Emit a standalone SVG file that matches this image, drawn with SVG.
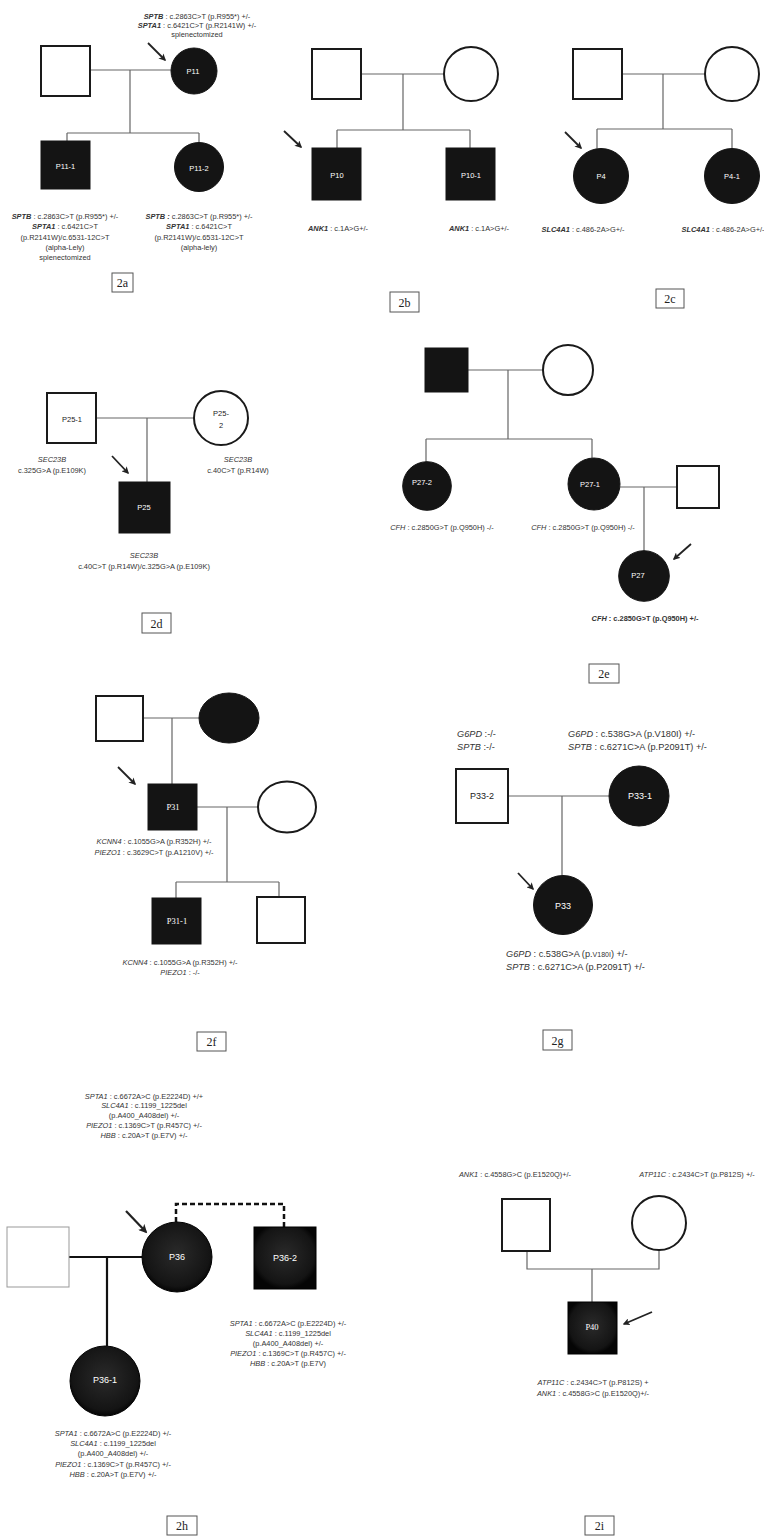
<svg xmlns="http://www.w3.org/2000/svg" width="764" height="1536" viewBox="0 0 764 1536">
<defs>
<style>
.t{font-family:"Liberation Sans",Arial,sans-serif;font-size:7.4px;fill:#333;text-anchor:middle}
.tl{font-family:"Liberation Sans",Arial,sans-serif;font-size:9.2px;fill:#333}
.bi{font-weight:bold;font-style:italic}
.i{font-style:italic}
.b{font-weight:bold}
.lab{font-family:"Liberation Sans",Arial,sans-serif;font-size:7.5px;fill:#fff;text-anchor:middle;dominant-baseline:central}
.labk{font-family:"Liberation Sans",Arial,sans-serif;font-size:7.5px;fill:#222;text-anchor:middle;dominant-baseline:central}
.labs{font-family:"Liberation Serif","Times New Roman",serif;font-size:8.5px;fill:#fff;text-anchor:middle;dominant-baseline:central}
.lab9{font-family:"Liberation Sans",Arial,sans-serif;font-size:9px;fill:#fff;text-anchor:middle;dominant-baseline:central}
.lab9k{font-family:"Liberation Sans",Arial,sans-serif;font-size:9px;fill:#222;text-anchor:middle;dominant-baseline:central}
.open{fill:#fff;stroke:#1a1a1a;stroke-width:2}
.fill{fill:#141414;stroke:#141414;stroke-width:1}
.ln{fill:none;stroke:#666;stroke-width:1.2}
.lnk{fill:none;stroke:#111;stroke-width:2.2}
.arr{fill:none;stroke:#222;stroke-width:1.8;marker-end:url(#ah)}
.box{fill:#fff;stroke:#555;stroke-width:1}
.bt{font-family:"Liberation Serif","Times New Roman",serif;font-size:12px;fill:#222;text-anchor:middle;dominant-baseline:central}
</style>
<marker id="ah" viewBox="0 0 10 10" refX="8" refY="5" markerWidth="4" markerHeight="4" orient="auto">
<path d="M0,0 L10,5 L0,10 L2.5,5 z" fill="#222"/>
</marker>
<radialGradient id="dk" cx="50%" cy="45%" r="55%">
<stop offset="0%" stop-color="#2a2a2a"/>
<stop offset="85%" stop-color="#141414"/>
<stop offset="100%" stop-color="#050505"/>
</radialGradient>
</defs>
<rect width="764" height="1536" fill="#fff"/>

<g id="connectors">
<!-- 2a -->
<path class="ln" d="M90,70 H171 M130,70 V133 M67,133 H199 M67,133 V141 M199,133 V142"/>
<!-- 2b -->
<path class="ln" d="M361,74 H444 M403,74 V130 M337,130 H470 M337,130 V148 M470,130 V148"/>
<!-- 2c -->
<path class="ln" d="M622,74 H705 M663,74 V129 M597,129 H732 M597,129 V148.5 M732,129 V148.5"/>
<!-- 2d -->
<path class="ln" d="M96,418 H194 M147,418 V482"/>
<!-- 2e -->
<path class="ln" d="M468,370 H543 M508,370 V439 M426,439 H592 M426,439 V462 M592,439 V458 M620,487 H677 M644,487 V551"/>
<line x1="410" y1="498" x2="443" y2="498" stroke="#777" stroke-width="0.6"/>
<!-- 2f -->
<path class="ln" d="M143,718 H199 M172,718 V784 M197,807 H258 M227,807 V882 M176,882 H279 M176,882 V898 M279,882 V897"/>
<!-- 2g -->
<path class="ln" d="M508,796 H609 M562,796 V875.5"/>
<!-- 2h -->
<path class="lnk" d="M69,1257 H142 M107,1257 V1346"/>
<path fill="none" stroke="#111" stroke-width="2.5" stroke-dasharray="5,3" d="M176,1222 V1204 H284 V1227"/>
<!-- 2i -->
<path class="ln" d="M527,1251 V1269 H659 V1250 M592,1269 V1302"/>
<!-- proband arrows -->
<line class="arr" x1="148" y1="43" x2="165" y2="60"/>
<line class="arr" x1="284" y1="131" x2="301" y2="147"/>
<line class="arr" x1="565" y1="132" x2="581" y2="148"/>
<line class="arr" x1="112" y1="456" x2="128" y2="473"/>
<line class="arr" x1="691" y1="544" x2="674" y2="559"/>
<line class="arr" x1="118" y1="767" x2="135" y2="784"/>
<line class="arr" x1="518" y1="873" x2="533" y2="889"/>
<line class="arr" x1="126" y1="1211" x2="146" y2="1232" style="stroke-width:2.2"/>
<line class="arr" x1="652" y1="1312" x2="624" y2="1324"/>
</g>

<!-- ===== 2a ===== -->
<g id="a-father"><rect class="open" x="41" y="46" width="49" height="50"/></g>
<g id="a-P11"><circle class="fill" cx="194" cy="71" r="23"/><text class="lab" x="193" y="71">P11</text>
<text class="t" x="197" y="18.5"><tspan class="bi">SPTB</tspan> : c.2863C&gt;T (p.R955*) +/-</text>
<text class="t" x="197" y="27.5"><tspan class="bi">SPTA1</tspan> : c.6421C&gt;T (p.R2141W) +/-</text>
<text class="t" x="197" y="36.5">splenectomized</text></g>
<g id="a-P11-1"><rect class="fill" x="41" y="141" width="49" height="48"/><text class="lab" x="65.5" y="166">P11-1</text>
<text class="t" x="65" y="218.5"><tspan class="bi">SPTB</tspan> : c.2863C&gt;T (p.R955*) +/-</text>
<text class="t" x="65" y="228.5"><tspan class="bi">SPTA1</tspan> : c.6421C&gt;T</text>
<text class="t" x="65" y="239.5">(p.R2141W)/c.6531-12C&gt;T</text>
<text class="t" x="65" y="249.5">(alpha-Lely)</text>
<text class="t" x="65" y="259.5">splenectomized</text></g>
<g id="a-P11-2"><circle class="fill" cx="199" cy="167" r="24.5"/><text class="lab" x="199" y="168">P11-2</text>
<text class="t" x="199" y="218.5"><tspan class="bi">SPTB :</tspan> c.2863C&gt;T (p.R955*) +/-</text>
<text class="t" x="199" y="228.5"><tspan class="bi">SPTA1</tspan> : c.6421C&gt;T</text>
<text class="t" x="199" y="239.5">(p.R2141W)/c.6531-12C&gt;T</text>
<text class="t" x="199" y="249.5">(alpha-lely)</text></g>
<g id="label-2a"><rect class="box" x="112" y="273" width="21" height="19"/><text class="bt" x="122.5" y="283">2a</text></g>

<!-- ===== 2b ===== -->
<g id="b-father"><rect class="open" x="312" y="49" width="49" height="50"/></g>
<g id="b-mother"><circle class="open" cx="471" cy="74" r="27"/></g>
<g id="b-P10"><rect class="fill" x="312" y="148" width="49" height="52"/><text class="lab" x="337" y="175">P10</text>
<text class="t" x="338" y="230.5"><tspan class="bi">ANK1</tspan> : c.1A&gt;G+/-</text></g>
<g id="b-P10-1"><rect class="fill" x="446" y="148" width="49" height="52"/><text class="lab" x="471" y="175">P10-1</text>
<text class="t" x="479" y="230.5"><tspan class="bi">ANK1</tspan> : c.1A&gt;G+/-</text></g>
<g id="label-2b"><rect class="box" x="390" y="292" width="29" height="20"/><text class="bt" x="404.5" y="302.5">2b</text></g>

<!-- ===== 2c ===== -->
<g id="c-father"><rect class="open" x="573" y="49" width="49" height="50"/></g>
<g id="c-mother"><circle class="open" cx="732" cy="74" r="27"/></g>
<g id="c-P4"><circle class="fill" cx="601" cy="176" r="27.5"/><text class="lab" x="601" y="176">P4</text>
<text class="t" x="583" y="231.5"><tspan class="bi">SLC4A1</tspan> : c.486-2A&gt;G+/-</text></g>
<g id="c-P4-1"><circle class="fill" cx="732" cy="176" r="27.5"/><text class="lab" x="732" y="176">P4-1</text>
<text class="t" x="723" y="231.5"><tspan class="bi">SLC4A1</tspan> : c.486-2A&gt;G+/-</text></g>
<g id="label-2c"><rect class="box" x="656" y="289" width="28" height="19"/><text class="bt" x="670" y="299">2c</text></g>

<!-- ===== 2d ===== -->
<g id="d-P25-1"><rect class="open" x="47" y="393" width="49" height="50"/><text class="labk" x="72" y="419">P25-1</text>
<text class="t" x="52" y="461.5"><tspan class="i">SEC23B</tspan></text>
<text class="t" x="52" y="472.5">c.325G&gt;A (p.E109K)</text></g>
<g id="d-P25-2"><circle class="open" cx="221" cy="418" r="27"/><text class="labk" x="221" y="413">P25-</text><text class="labk" x="221" y="425">2</text>
<text class="t" x="238" y="461.5"><tspan class="i">SEC23B</tspan></text>
<text class="t" x="238" y="472.5">c.40C&gt;T (p.R14W)</text></g>
<g id="d-P25"><rect class="fill" x="119" y="482" width="51" height="51"/><text class="lab" x="144" y="507">P25</text>
<text class="t" x="144" y="557.5"><tspan class="i">SEC23B</tspan></text>
<text class="t" x="144" y="568.5">c.40C&gt;T (p.R14W)/c.325G&gt;A (p.E109K)</text></g>
<g id="label-2d"><rect class="box" x="142" y="613" width="29" height="20"/><text class="bt" x="156.5" y="623.5">2d</text></g>

<!-- ===== 2e ===== -->
<g id="e-father"><rect class="fill" x="425" y="348" width="43" height="44"/></g>
<g id="e-mother"><circle class="open" cx="568" cy="370" r="25"/></g>
<g id="e-P27-2"><circle class="fill" cx="427" cy="486" r="24.3"/><text class="lab" x="422" y="482">P27-2</text>
<text class="t" x="442" y="529.5"><tspan class="i">CFH</tspan> : c.2850G&gt;T (p.Q950H) -/-</text></g>
<g id="e-P27-1"><circle class="fill" cx="594" cy="484" r="26"/><text class="lab" x="590" y="484">P27-1</text>
<text class="t" x="583" y="529.5"><tspan class="i">CFH</tspan> : c.2850G&gt;T (p.Q950H) -/-</text></g>
<g id="e-spouse"><rect class="open" x="677" y="466" width="42" height="42"/></g>
<g id="e-P27"><circle class="fill" cx="644" cy="576" r="25.3"/><text class="lab" x="638" y="575">P27</text>
<text class="t b" x="645" y="620.5"><tspan class="bi">CFH</tspan> : c.2850G&gt;T (p.Q950H) +/-</text></g>
<g id="label-2e"><rect class="box" x="589" y="664" width="30" height="19"/><text class="bt" x="604" y="674">2e</text></g>

<!-- ===== 2f ===== -->
<g id="f-father"><rect class="open" x="96" y="696" width="47" height="45"/></g>
<g id="f-mother"><ellipse class="fill" cx="229" cy="718" rx="30" ry="25"/></g>
<g id="f-P31"><rect class="fill" x="148" y="784" width="49" height="46"/><text class="labs" x="173" y="807">P31</text>
<text class="t" x="154" y="843.5"><tspan class="i">KCNN4</tspan> : c.1055G&gt;A (p.R352H) +/-</text>
<text class="t" x="154" y="854.5"><tspan class="i">PIEZO1</tspan> : c.3629C&gt;T  (p.A1210V) +/-</text></g>
<g id="f-spouse"><ellipse class="open" cx="287" cy="807" rx="29" ry="25.5"/></g>
<g id="f-P31-1"><rect class="fill" x="152" y="898" width="49" height="46"/><text class="labs" x="177" y="921">P31-1</text>
<text class="t" x="180" y="964.5"><tspan class="i">KCNN4</tspan> : c.1055G&gt;A (p.R352H) +/-</text>
<text class="t" x="180" y="974.5"><tspan class="i">PIEZO1</tspan> : -/-</text></g>
<g id="f-sibling"><rect class="open" x="257" y="897" width="48" height="46"/></g>
<g id="label-2f"><rect class="box" x="197" y="1032" width="29" height="19"/><text class="bt" x="211.5" y="1042">2f</text></g>

<!-- ===== 2g ===== -->
<g id="g-P33-2"><rect class="open" x="456" y="769" width="52" height="54"/><text class="lab9k" x="482" y="796">P33-2</text>
<text class="tl" x="457" y="737"><tspan class="i">G6PD</tspan> :-/-</text>
<text class="tl" x="457" y="750"><tspan class="i">SPTB</tspan> :-/-</text></g>
<g id="g-P33-1"><circle class="fill" cx="639" cy="796" r="30"/><text class="lab9" x="640" y="796">P33-1</text>
<text class="tl" x="568" y="737"><tspan class="i">G6PD</tspan> : c.538G&gt;A (p.V180I) +/-</text>
<text class="tl" x="568" y="750"><tspan class="i">SPTB</tspan> : c.6271C&gt;A (p.P2091T) +/-</text></g>
<g id="g-P33"><circle class="fill" cx="563" cy="905" r="29.5"/><text class="lab9" x="563" y="906">P33</text>
<text class="tl" x="506" y="957"><tspan class="i">G6PD</tspan> : c.538G&gt;A (p.<tspan style="font-size:7px">V180I</tspan>) +/-</text>
<text class="tl" x="506" y="970"><tspan class="i">SPTB</tspan> : c.6271C&gt;A (p.P2091T) +/-</text></g>
<g id="label-2g"><rect class="box" x="543" y="1030" width="29" height="20"/><text class="bt" x="557.5" y="1040.5">2g</text></g>

<!-- ===== 2h ===== -->
<g id="h-father"><rect x="7" y="1227" width="62" height="60" fill="#fff" stroke="#999" stroke-width="1"/></g>
<g id="h-P36"><circle cx="177" cy="1257" r="35" fill="url(#dk)" stroke="#000" stroke-width="1"/><text class="lab9" x="177" y="1257">P36</text>
<text class="t" x="144" y="1098.5"><tspan class="i">SPTA1</tspan> : c.6672A&gt;C (p.E2224D) +/+</text>
<text class="t" x="144" y="1108"><tspan class="i">SLC4A1</tspan> : c.1199_1225del</text>
<text class="t" x="144" y="1118">(p.A400_A408del) +/-</text>
<text class="t" x="144" y="1128"><tspan class="i">PIEZO1</tspan> : c.1369C&gt;T (p.R457C) +/-</text>
<text class="t" x="144" y="1138"><tspan class="i">HBB</tspan> : c.20A&gt;T (p.E7V) +/-</text></g>
<g id="h-P36-2"><rect x="254" y="1227" width="62" height="62" fill="url(#dk)" stroke="#000" stroke-width="1"/><text class="lab9" x="285" y="1258">P36-2</text>
<text class="t" x="288" y="1325.5"><tspan class="i">SPTA1</tspan> : c.6672A&gt;C (p.E2224D) +/-</text>
<text class="t" x="288" y="1335.5"><tspan class="i">SLC4A1</tspan> : c.1199_1225del</text>
<text class="t" x="288" y="1345.5">(p.A400_A408del) +/-</text>
<text class="t" x="288" y="1355.5"><tspan class="i">PIEZO1</tspan> : c.1369C&gt;T (p.R457C) +/-</text>
<text class="t" x="288" y="1365.5"><tspan class="i">HBB</tspan> : c.20A&gt;T (p.E7V)</text></g>
<g id="h-P36-1"><circle cx="105" cy="1381" r="35" fill="url(#dk)" stroke="#000" stroke-width="1"/><text class="lab9" x="105" y="1380">P36-1</text>
<text class="t" x="113" y="1435.5"><tspan class="i">SPTA1</tspan> : c.6672A&gt;C (p.E2224D) +/-</text>
<text class="t" x="113" y="1445.5"><tspan class="i">SLC4A1</tspan> : c.1199_1225del</text>
<text class="t" x="113" y="1456">(p.A400_A408del) +/-</text>
<text class="t" x="113" y="1466.5"><tspan class="i">PIEZO1</tspan> : c.1369C&gt;T (p.R457C) +/-</text>
<text class="t" x="113" y="1476.5"><tspan class="i">HBB</tspan> : c.20A&gt;T (p.E7V) +/-</text></g>
<g id="label-2h"><rect class="box" x="167" y="1516" width="30" height="19"/><text class="bt" x="182" y="1526">2h</text></g>

<!-- ===== 2i ===== -->
<g id="i-father"><rect class="open" x="502" y="1199" width="48" height="52"/>
<text class="t" x="515" y="1176.5"><tspan class="i">ANK1</tspan> : c.4558G&gt;C (p.E1520Q)+/-</text></g>
<g id="i-mother"><circle class="open" cx="659" cy="1223" r="27"/>
<text class="t" x="697" y="1176.5"><tspan class="i">ATP11C</tspan> : c.2434C&gt;T (p.P812S) +/-</text></g>
<g id="i-P40"><rect x="568" y="1302" width="49" height="52" fill="url(#dk)" stroke="#000" stroke-width="1"/><text class="labs" x="592" y="1327">P40</text>
<text class="t" x="593" y="1384.5"><tspan class="i">ATP11C</tspan> : c.2434C&gt;T (p.P812S) +</text>
<text class="t" x="593" y="1395.5"><tspan class="i">ANK1</tspan> : c.4558G&gt;C (p.E1520Q)+/-</text></g>
<g id="label-2i"><rect class="box" x="585" y="1516" width="29" height="19"/><text class="bt" x="599.5" y="1526">2i</text></g>
</svg>
